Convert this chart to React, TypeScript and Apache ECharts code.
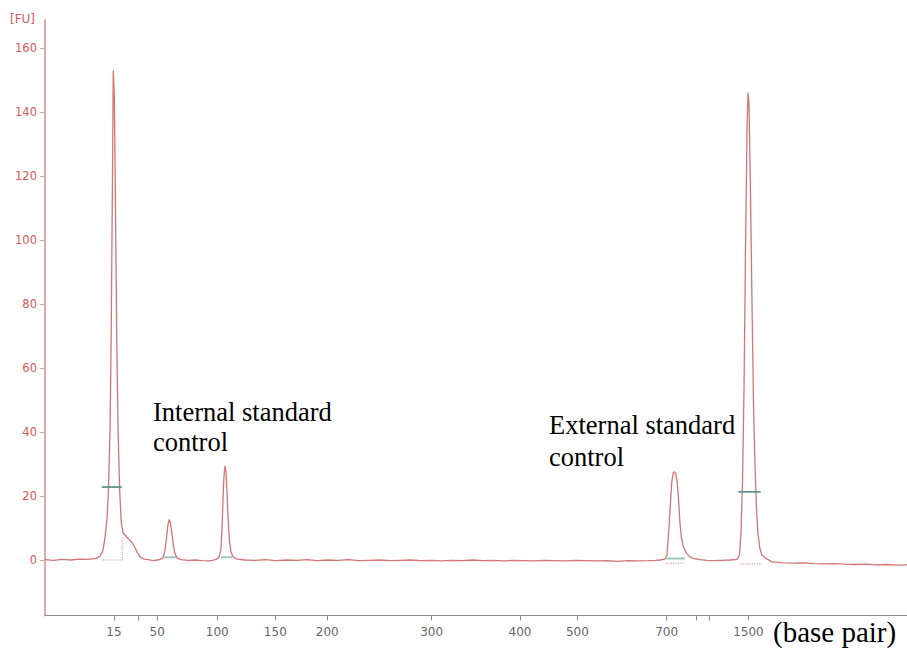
import React, { useEffect, useRef } from "react";
import * as echarts from "echarts";

// x axis: migration time (s); y axis: fluorescence [FU]
const X_MIN = 20;
const X_MAX = 70;
const Y_MIN = -17.34;
const Y_MAX = 168.75;

const tickPositions = [24.0, 25.38, 26.51, 29.99, 33.36, 36.37, 42.43, 47.55, 50.88, 56.06, 57.76, 58.53, 60.8];
const tickLabels = ["15", "", "50", "100", "150", "200", "300", "400", "500", "700", "", "", "1500"];
const yTicks = [0, 20, 40, 60, 80, 100, 120, 140, 160];

// electropherogram trace [time, FU]
const trace: [number, number][] = [
  [20.0, 0.1], [20.5, -0.1], [21.0, 0.2], [21.5, 0.0], [22.0, 0.3], [22.5, 0.2],
  // lower marker peak (15 bp)
  [22.96, 0.5], [23.19, 1.2], [23.36, 3], [23.48, 7], [23.6, 13], [23.68, 22], [23.77, 40],
  [23.84, 70], [23.9, 110], [23.96, 153], [24.02, 145], [24.08, 115], [24.16, 70], [24.24, 40],
  [24.33, 22], [24.42, 12], [24.52, 8.5], [24.64, 7.8], [24.81, 6.8], [24.99, 5.8], [25.16, 4.5],
  [25.34, 2.5], [25.51, 1], [25.74, 0.3],
  [26.0, 0.1], [26.3, -0.2], [26.5, 0.0],
  // internal standard peak 1
  [26.67, 0.2], [26.84, 0.6], [26.96, 3], [27.05, 7], [27.13, 11], [27.21, 12.7], [27.28, 11.5],
  [27.37, 8], [27.45, 4.5], [27.54, 2], [27.66, 0.6], [27.89, 0.1],
  [28.3, -0.1], [28.7, 0.0], [29.1, -0.2], [29.5, -0.3], [29.7, -0.1],
  // internal standard peak 2
  [29.92, 0.2], [30.09, 0.8], [30.2, 3], [30.26, 9], [30.32, 18], [30.38, 26], [30.44, 29.4],
  [30.5, 27.5], [30.56, 21], [30.62, 13], [30.7, 6], [30.79, 2.5], [30.9, 1], [31.14, 0.3],
  [31.6, 0.0], [32.2, -0.1], [32.8, 0.1], [33.4, -0.2], [34.0, 0.0], [34.6, -0.1], [35.2, 0.1],
  [35.8, -0.2], [36.4, 0.0], [37.0, -0.1], [37.6, 0.1], [38.2, -0.2], [38.8, -0.1], [39.4, 0.0],
  [40.0, -0.2], [40.6, -0.1], [41.2, 0.0], [41.8, -0.2], [42.4, -0.1], [43.0, -0.3], [43.6, -0.1],
  [44.2, -0.2], [44.8, 0.0], [45.4, -0.2], [46.0, -0.1], [46.6, -0.3], [47.2, -0.1], [47.8, -0.2],
  [48.4, -0.3], [49.0, -0.1], [49.6, -0.2], [50.2, -0.3], [50.8, -0.1], [51.4, -0.2], [52.0, -0.3],
  [52.6, -0.2], [53.2, -0.4], [53.8, -0.2], [54.4, -0.3], [55.0, -0.2], [55.4, -0.1],
  // external standard peak
  [55.67, 0], [55.96, 0.3], [56.08, 1.5], [56.21, 11.5], [56.28, 18], [56.35, 24], [56.43, 27],
  [56.5, 27.6], [56.58, 27], [56.68, 24], [56.76, 18], [56.83, 11.5], [56.92, 7], [57.02, 4.2],
  [57.22, 2], [57.41, 1], [57.64, 0.4], [57.99, 0.1],
  [58.4, -0.1], [58.8, -0.2], [59.2, -0.1],
  // upper marker peak (1500 bp)
  [59.73, 0], [60.14, 0.2], [60.28, 1.5], [60.37, 8], [60.46, 25], [60.55, 55], [60.63, 95],
  [60.72, 135], [60.78, 146], [60.84, 142], [60.92, 115], [61.01, 80], [61.1, 48], [61.18, 30],
  [61.27, 16], [61.36, 8], [61.47, 3.5], [61.59, 1.5], [61.82, 0.5], [62.17, -0.6],
  [62.8, -0.9], [63.4, -1.0], [64.0, -0.9], [64.6, -1.1], [65.2, -1.2], [65.8, -1.1], [66.4, -1.3],
  [67.0, -1.4], [67.6, -1.3], [68.2, -1.5], [68.8, -1.4], [69.4, -1.6], [70.0, -1.5],
];

// peak width markers (dark teal)
const widthMarker1: [number, number][] = [[23.29, 22.8], [24.45, 22.8]];
const widthMarker5: [number, number][] = [[60.21, 21.3], [61.51, 21.3]];
// small baseline markers (light teal)
const baseMarker2: [number, number][] = [[26.9, 0.9], [27.6, 0.9]];
const baseMarker3: [number, number][] = [[30.21, 0.9], [30.85, 0.9]];
const baseMarker4: [number, number][] = [[56.02, 0.5], [57.12, 0.5]];
// dotted peak baselines
const dotBase1: [number, number][] = [[23.35, 0], [24.48, 0], [24.48, 7.3]];
const dotBase4: [number, number][] = [[56.02, -1.0], [57.12, -1.0]];
const dotBase5: [number, number][] = [[60.31, -1.2], [61.59, -1.2]];

const TRACE = "#d47474";
const AXIS_RED = "#d45a5a";

function seg(data: [number, number][], color: string, width: number, type: string = "solid") {
  return {
    type: "line",
    data,
    showSymbol: false,
    silent: true,
    z: 5,
    lineStyle: { color, width, type },
  };
}

export default function App() {
  const ref = useRef<HTMLDivElement>(null);
  useEffect(() => {
    if (!ref.current) return;
    const chart = echarts.init(ref.current, null, { renderer: "svg" });
    const labeledPos = tickPositions.filter((_, i) => tickLabels[i] !== "");
    chart.setOption({
      animation: false,
      backgroundColor: "#ffffff",
      grid: { left: 45, right: 0, top: 20, bottom: 32.5, containLabel: false, outerBoundsMode: "none" },
      xAxis: {
        type: "value",
        min: X_MIN,
        max: X_MAX,
        splitLine: { show: false },
        axisLine: { onZero: false, lineStyle: { color: "#8a8a8a", width: 1.2 } },
        axisTick: { customValues: tickPositions, length: 5, lineStyle: { color: "#8a8a8a" } },
        axisLabel: {
          customValues: labeledPos,
          margin: 10,
          color: "#666666",
          fontFamily: "DejaVu Sans",
          fontSize: 12,
          formatter: (v: number) => {
            let best = 0;
            for (let i = 0; i < tickPositions.length; i++) {
              if (Math.abs(tickPositions[i] - v) < Math.abs(tickPositions[best] - v)) best = i;
            }
            return tickLabels[best];
          },
        },
      },
      yAxis: {
        type: "value",
        min: Y_MIN,
        max: Y_MAX,
        splitLine: { show: false },
        axisLine: { show: true, lineStyle: { color: "#e0a0a0", width: 1.8 } },
        axisTick: { show: true, customValues: yTicks, length: 5, lineStyle: { color: "#e0a0a0" } },
        axisLabel: {
          customValues: yTicks,
          margin: 8,
          color: AXIS_RED,
          fontFamily: "DejaVu Sans",
          fontSize: 11.5,
        },
      },
      series: [
        {
          type: "line",
          data: trace,
          showSymbol: false,
          silent: true,
          z: 3,
          lineStyle: { color: TRACE, width: 1.3 },
        },
        seg(dotBase1, "#e0a0a0", 1.2, "dotted"),
        seg(dotBase4, "#e0a0a0", 1.2, "dotted"),
        seg(dotBase5, "#e0a0a0", 1.2, "dotted"),
        seg(widthMarker1, "#4f8a80", 1.6),
        seg(widthMarker5, "#4f8a80", 1.6),
        seg(baseMarker2, "#9cc7c0", 2),
        seg(baseMarker3, "#9cc7c0", 2),
        seg(baseMarker4, "#9cc7c0", 2),
      ],
      graphic: [
        {
          type: "text",
          x: 10,
          y: 13,
          style: { text: "[FU]", fill: AXIS_RED, font: "12px 'DejaVu Sans'" },
        },
        {
          type: "text",
          x: 153,
          y: 397,
          style: {
            text: "Internal standard\ncontrol",
            fill: "#000000",
            font: "26.5px 'Liberation Serif'",
            lineHeight: 30,
          },
        },
        {
          type: "text",
          x: 549,
          y: 409,
          style: {
            text: "External standard\ncontrol",
            fill: "#000000",
            font: "26.5px 'Liberation Serif'",
            lineHeight: 32,
          },
        },
        {
          type: "text",
          x: 773,
          y: 632,
          style: {
            text: "(base pair)",
            fill: "#000000",
            font: "29px 'Liberation Serif'",
            verticalAlign: "middle",
          },
        },
      ],
    });
    return () => chart.dispose();
  }, []);
  return <div ref={ref} style={{ position: "absolute", left: 0, top: 0, width: 907, height: 648 }} />;
}
